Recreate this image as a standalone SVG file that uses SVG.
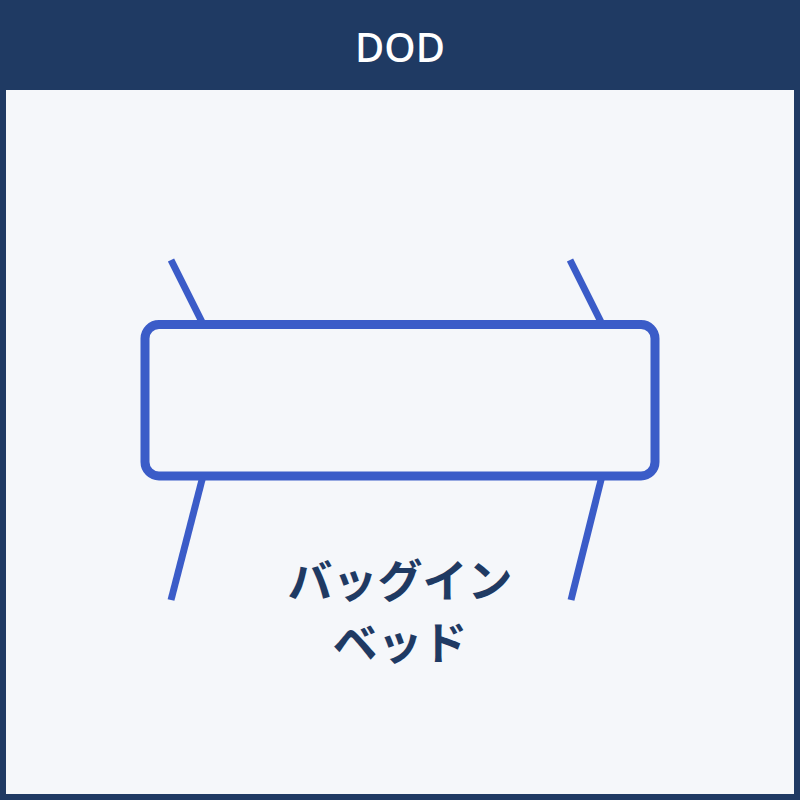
<svg xmlns="http://www.w3.org/2000/svg" width="800" height="800" viewBox="0 0 800 800">
<style>
.frame{fill:#1F3A63}
.panel{fill:#F5F7FA}
.title{font-family:"Noto Sans","Open Sans",sans-serif;font-size:40px;font-weight:500;fill:#FFFFFF}
.box{fill:#F5F7FA;stroke:#3B5CC8;stroke-width:9}
.wire{stroke:#3B5CC8;stroke-width:7;fill:none}
.label{font-family:"Noto Sans CJK JP","Noto Sans",sans-serif;font-size:45px;font-weight:700;fill:#1F3A63}
</style>
<rect class="frame" x="0" y="0" width="800" height="800"/>
<rect class="panel" x="6" y="90" width="788" height="704"/>
<text class="title" x="400" y="62" text-anchor="middle">DOD</text>
<g id="connectors">
<line class="wire" x1="171" y1="260" x2="203" y2="324"/>
<line class="wire" x1="570" y1="260" x2="602" y2="324"/>
<line class="wire" x1="203" y1="476" x2="171" y2="600"/>
<line class="wire" x1="602" y1="476" x2="571" y2="600"/>
</g>
<g id="bag">
<rect class="box" x="145" y="324.5" width="510" height="151.5" rx="14" ry="14"/>
</g>
<g id="label">
<text class="label" x="400" y="598" text-anchor="middle">バッグイン</text>
<text class="label" x="400" y="660" text-anchor="middle">ベッド</text>
</g>
</svg>
